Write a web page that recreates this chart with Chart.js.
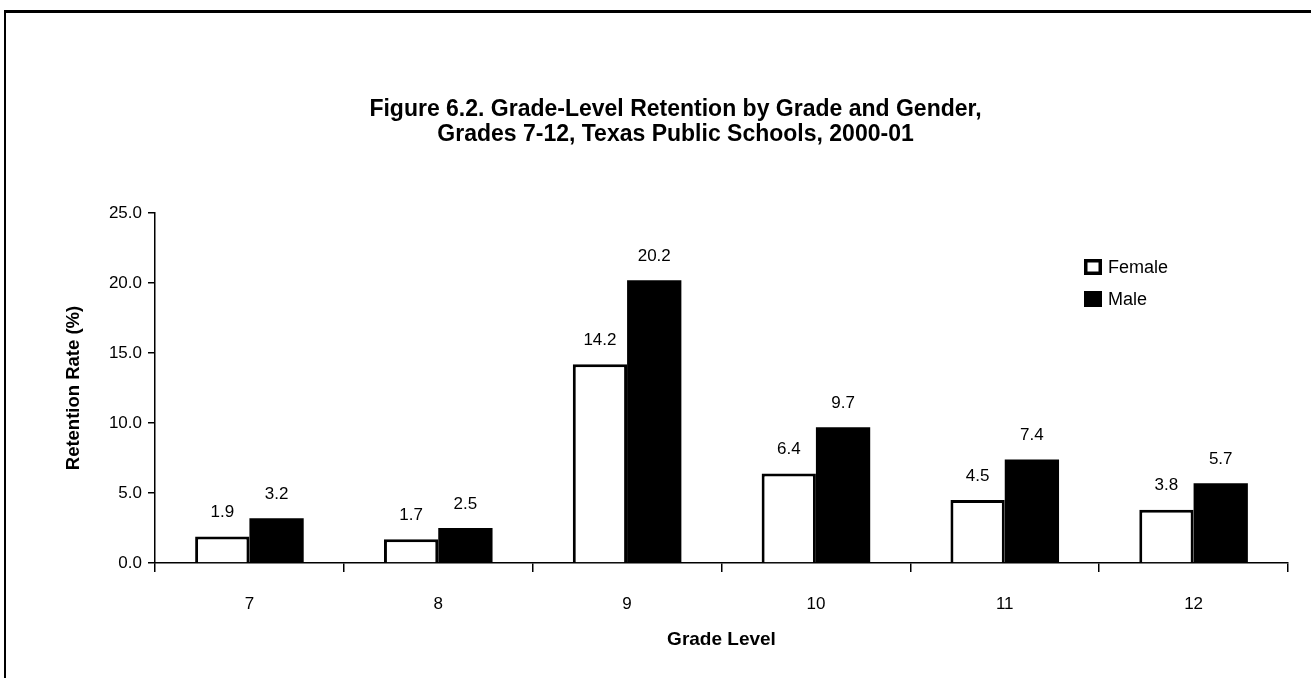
<!DOCTYPE html>
<html>
<head>
<meta charset="utf-8">
<script src="https://cdn.jsdelivr.net/npm/chart.js@4/dist/chart.umd.min.js"></script>
<style>
html,body{margin:0;padding:0;background:#fff;}
#wrap{position:relative;width:1311px;height:681px;}
#frame{position:absolute;left:4px;top:10px;width:1307px;height:668px;border-top:3px solid #000;border-left:2px solid #000;box-sizing:border-box;pointer-events:none;}
canvas{position:absolute;left:0;top:0;}
</style>
</head>
<body>
<div id="wrap"><canvas id="c" width="1311" height="681"></canvas><div id="frame"></div></div>
<script>
const categories = ['7','8','9','10','11','12'];
const femaleValues = [1.9, 1.7, 14.2, 6.4, 4.5, 3.8];
const maleValues = [3.2, 2.5, 20.2, 9.7, 7.4, 5.7];
const seriesNames = ['Female','Male'];
const titleLines = ['Figure 6.2. Grade-Level Retention by Grade and Gender,','Grades 7-12, Texas Public Schools, 2000-01'];
const xTitle = 'Grade Level';
const yTitle = 'Retention Rate (%)';

const FONT = "'Liberation Sans',Arial,sans-serif";

const labelPlugin = {
  id:'valueLabels',
  afterDatasetsDraw(chart){
    const ctx = chart.ctx;
    ctx.save();
    ctx.font = "17px " + FONT;
    ctx.fillStyle = '#000';
    ctx.textAlign = 'center';
    ctx.textBaseline = 'middle';
    chart.data.datasets.forEach((ds,i)=>{
      chart.getDatasetMeta(i).data.forEach((bar,j)=>{
        ctx.fillText(ds.data[j].toFixed(1), bar.x, bar.y - 24);
      });
    });
    ctx.restore();
  }
};

const legendPlugin = {
  id:'customLegend',
  afterDraw(chart){
    const ctx = chart.ctx;
    ctx.save();
    ctx.font = "18px " + FONT;
    ctx.textBaseline = 'middle';
    chart.data.datasets.forEach((ds,i)=>{
      const x = 1084, y = 259 + i*32, w = 18, h = 16;
      ctx.fillStyle = ds.backgroundColor;
      ctx.fillRect(x, y, w, h);
      ctx.lineWidth = 3.5;
      ctx.strokeStyle = '#000';
      ctx.strokeRect(x+1.75, y+1.75, w-3.5, h-3.5);
      ctx.fillStyle = '#000';
      ctx.textAlign = 'left';
      ctx.fillText(ds.label, x + 24, y + h/2 + 1);
    });
    ctx.restore();
  }
};

new Chart(document.getElementById('c'), {
  type:'bar',
  data:{
    labels: categories,
    datasets:[
      {label:seriesNames[0], data:femaleValues, backgroundColor:'#ffffff', borderColor:'#000', borderWidth:3},
      {label:seriesNames[1], data:maleValues, backgroundColor:'#000000', borderColor:'#000', borderWidth:0}
    ]
  },
  options:{
    responsive:false,
    animation:false,
    layout:{padding:{left:63, right:23, top:0, bottom:30}},
    datasets:{bar:{categoryPercentage:0.575, barPercentage:1.0}},
    plugins:{
      legend:{display:false},
      tooltip:{enabled:false},
      title:{display:true, text:titleLines, color:'#000', font:{family:FONT, size:23, weight:'bold', lineHeight:1.087}, padding:{top:97, bottom:66}}
    },
    scales:{
      x:{
        afterFit(s){ s.height = 88; },
        grid:{display:true, drawOnChartArea:false, color:'#000', tickLength:9, lineWidth:1.5, offset:true},
        border:{display:true, color:'#000', width:1.5},
        ticks:{color:'#000', font:{family:FONT, size:17}, padding:22},
        title:{display:true, text:xTitle, color:'#000', font:{family:FONT, size:19, weight:'bold'}, padding:{top:14, bottom:0}}
      },
      y:{
        min:0, max:25,
        afterFit(s){ s.width = 92; },
        grid:{display:true, drawOnChartArea:false, color:'#000', tickLength:7, lineWidth:1.5},
        border:{display:true, color:'#000', width:1.5},
        ticks:{stepSize:5, color:'#000', font:{family:FONT, size:17}, padding:6, callback:v=>Number(v).toFixed(1)},
        title:{display:true, text:yTitle, color:'#000', font:{family:FONT, size:18.5, weight:'bold'}, padding:{top:0, bottom:0}}
      }
    }
  },
  plugins:[labelPlugin, legendPlugin]
});
</script>
</body>
</html>
